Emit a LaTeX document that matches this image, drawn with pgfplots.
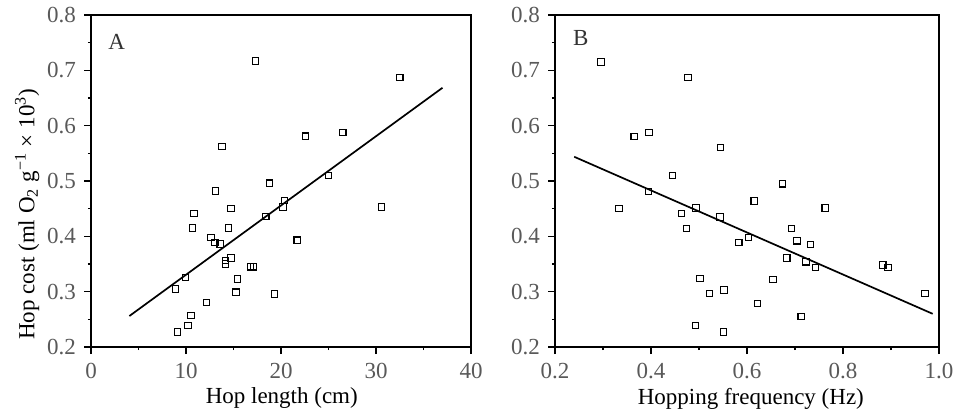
\documentclass[border=0pt]{standalone}
\usepackage{fontspec}
\setmainfont{Liberation Serif}
\usepackage{pgfplots}
\pgfplotsset{compat=1.18}
\pgfplotstableread{
x y
17.33 0.717
32.5 0.687
22.6 0.581
26.5 0.588
13.8 0.562
18.8 0.496
25.0 0.510
13.1 0.482
20.35 0.465
20.2 0.453
30.6 0.453
10.84 0.441
14.74 0.450
18.4 0.436
10.7 0.415
14.46 0.415
12.63 0.398
13.05 0.389
13.6 0.386
21.7 0.393
14.74 0.361
14.14 0.356
14.14 0.350
16.8 0.345
17.1 0.345
15.44 0.323
9.96 0.326
8.88 0.305
15.26 0.299
19.33 0.296
12.14 0.280
10.53 0.257
10.2 0.239
9.09 0.227
}\dataA
\pgfplotstableread{
x y
0.296 0.715
0.477 0.687
0.365 0.580
0.396 0.588
0.545 0.561
0.445 0.510
0.674 0.495
0.395 0.481
0.615 0.464
0.333 0.450
0.494 0.451
0.763 0.451
0.464 0.441
0.544 0.435
0.474 0.414
0.693 0.414
0.603 0.398
0.583 0.389
0.704 0.392
0.732 0.385
0.683 0.361
0.723 0.354
0.743 0.344
0.883 0.348
0.894 0.344
0.971 0.297
0.502 0.324
0.654 0.322
0.522 0.297
0.552 0.303
0.622 0.279
0.713 0.255
0.493 0.239
0.551 0.227
}\dataB
\begin{document}
\fontsize{11.5}{13.5}\selectfont
\begin{tikzpicture}
\pgfplotsset{
  myaxis/.style={
    scale only axis, height=166pt,
    ymin=0.2, ymax=0.8,
    ytick={0.2,0.3,0.4,0.5,0.6,0.7,0.8},
    minor tick num=1,
    xtick pos=bottom, ytick pos=left,
    tick align=outside,
    major tick length=3.5pt, minor tick length=1.6pt,
    axis line style={line width=0.7pt},
    every tick/.style={line width=0.6pt, black},
    /pgf/number format/assume math mode=true,
    yticklabel style={text=black!65, /pgf/number format/.cd, fixed, fixed zerofill, precision=1},
    xticklabel style={text=black!65, yshift=-0.5pt},
    label style={text=black!80},
    clip=false,
  }
}
\begin{axis}[myaxis, width=190pt, at={(45.5pt,35.5pt)}, anchor=south west,
  xmin=0, xmax=40, xtick={0,10,20,30,40},
  xlabel={Hop length (cm)},
  ylabel={Hop cost (ml O\textsubscript{2} g\textsuperscript{−1} × 10\textsuperscript{3})},
  every axis y label/.style={at={(axis description cs:-0.168,0.40)}, rotate=90, anchor=center},
  every axis x label/.style={at={(axis description cs:0.502,-0.155)}, anchor=center},
]
\addplot[only marks, mark=square, mark size=1.6pt, mark options={line width=0.55pt}] table[x=x,y=y] {\dataA};
\addplot[black, line width=0.85pt] coordinates {(4.04,0.256) (37.0,0.6685)};
\node[anchor=center, text=black!80] at (axis cs:2.7,0.752) {A};
\end{axis}
\begin{axis}[myaxis, width=192pt, at={(277.5pt,35.5pt)}, anchor=south west,
  xmin=0.2, xmax=1.0, xtick={0.2,0.4,0.6,0.8,1.0},
  xticklabel style={/pgf/number format/.cd, fixed, fixed zerofill, precision=1},
  xlabel={Hopping frequency (Hz)},
  every axis x label/.style={at={(axis description cs:0.51,-0.155)}, anchor=center},
]
\addplot[only marks, mark=square, mark size=1.6pt, mark options={line width=0.55pt}] table[x=x,y=y] {\dataB};
\addplot[black, line width=0.85pt] coordinates {(0.240,0.5438) (0.9868,0.260)};
\node[anchor=center, text=black!80] at (axis cs:0.2535,0.758) {B};
\end{axis}
\pgfresetboundingbox
\path (0pt,0pt) rectangle (478pt,209pt);
\end{tikzpicture}
\end{document}
